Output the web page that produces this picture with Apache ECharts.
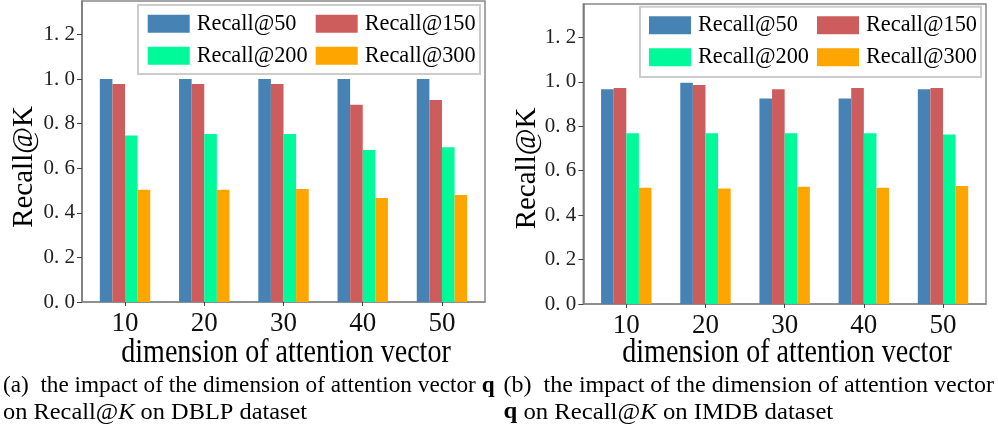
<!DOCTYPE html>
<html>
<head>
<meta charset="utf-8">
<script src="https://cdn.jsdelivr.net/npm/echarts@6/dist/echarts.min.js"></script>
<style>
html,body{margin:0;padding:0;background:#fff;}
#chart{width:998px;height:430px;}
</style>
</head>
<body>
<div id="chart"></div>
<script>
const categories = [10, 20, 30, 40, 50];
const yTicks = [0, 0.2, 0.4, 0.6, 0.8, 1.0, 1.2];
const seriesNames = ['Recall@50', 'Recall@150', 'Recall@200', 'Recall@300'];
// DBLP (a)
const dblpR50  = [1.000, 1.000, 1.000, 1.000, 1.000];
const dblpR150 = [0.978, 0.978, 0.978, 0.885, 0.906];
const dblpR200 = [0.747, 0.753, 0.753, 0.682, 0.694];
const dblpR300 = [0.504, 0.504, 0.507, 0.466, 0.480];
// IMDB (b)
const imdbR50  = [0.966, 0.996, 0.925, 0.925, 0.966];
const imdbR150 = [0.972, 0.985, 0.966, 0.972, 0.972];
const imdbR200 = [0.768, 0.768, 0.768, 0.768, 0.763];
const imdbR300 = [0.523, 0.520, 0.528, 0.523, 0.531];

const xTitle = 'dimension of attention vector';
const yTitle = 'Recall@K';

const colors = ['#4682B4', '#CD5C5C', '#00FA9A', '#FFA500'];
const FONT = 'Liberation Serif';

const chart = echarts.init(document.getElementById('chart'), null, {renderer: 'canvas'});

const panels = [
  {data: [dblpR50, dblpR150, dblpR200, dblpR300], left: 82, top: 1, width: 403, height: 301},
  {data: [imdbR50, imdbR150, imdbR200, imdbR300], left: 583.3, top: 4, width: 402.7, height: 300}
];

const grids = [], xAxes = [], yAxes = [], series = [];
panels.forEach((p, k) => {
  grids.push({left: p.left, top: p.top, width: p.width, height: p.height, show: true,
    borderColor: '#888', borderWidth: 1.5, containLabel: false});
  xAxes.push({
    type: 'value', gridIndex: k, min: 4.57, max: 55.43,
    axisLine: {show: true, onZero: false, lineStyle: {color: '#888', width: 1.5}},
    axisTick: {show: true, customValues: categories, length: 4, lineStyle: {color: '#444'}},
    axisLabel: {customValues: categories, formatter: v => String(v), fontFamily: FONT, fontSize: 27, color: '#111', margin: 8},
    splitLine: {show: false}
  });
  yAxes.push({
    type: 'value', gridIndex: k, min: 0, max: 1.35,
    axisLine: {show: true, lineStyle: {color: '#777', width: 1.5}},
    axisTick: {show: true, customValues: yTicks, length: 5, lineStyle: {color: '#444'}},
    axisLabel: {customValues: yTicks, formatter: v => v.toFixed(1).replace('.', '. '),
      fontFamily: FONT, fontSize: 21, color: '#222', margin: 7},
    splitLine: {show: false}
  });
  p.data.forEach((vals, i) => {
    series.push({
      type: 'bar', name: seriesNames[i], xAxisIndex: k, yAxisIndex: k,
      barWidth: 12.6, barGap: '0%',
      itemStyle: {color: colors[i]},
      data: categories.map((c, j) => [c, vals[j]])
    });
  });
});

const legendBase = {orient: 'vertical', padding: 0, itemWidth: 42, itemHeight: 18, itemGap: 10, icon: 'rect', z: 10,
  textStyle: {fontFamily: FONT, fontSize: 22.3, color: '#000', lineHeight: 18, padding: [0, 0, 0, 2]}};
const legends = [
  Object.assign({}, legendBase, {left: 147.7, top: 12.7, data: ['Recall@50', 'Recall@200']}),
  Object.assign({}, legendBase, {left: 315.7, top: 12.7, data: ['Recall@150', 'Recall@300']}),
  Object.assign({}, legendBase, {left: 649, top: 14.3, data: ['Recall@50', 'Recall@200']}),
  Object.assign({}, legendBase, {left: 817, top: 14.3, data: ['Recall@150', 'Recall@300']})
];

const CAPF = 23;
function cap(x, y, text, sx) {
  return {type: 'text', x: x, y: y, scaleX: sx, z: 10,
    style: {text: text, fontFamily: FONT, fontSize: CAPF, fill: '#000', align: 'left', verticalAlign: 'middle',
      rich: {
        b: {fontFamily: FONT, fontSize: CAPF, fontWeight: 'bold', fill: '#000'},
        i: {fontFamily: FONT, fontSize: CAPF, fontStyle: 'italic', fill: '#000'}
      }}};
}

const graphics = [
  {type: 'rect', shape: {x: 138, y: 5, width: 342, height: 69}, z: 5,
    style: {fill: '#fff', stroke: '#ccc', lineWidth: 2}},
  {type: 'rect', shape: {x: 640, y: 6.7, width: 341, height: 70.3}, z: 5,
    style: {fill: '#fff', stroke: '#ccc', lineWidth: 2}},
  {type: 'text', x: 24, y: 167, rotation: Math.PI / 2, z: 10,
    style: {text: yTitle, fontFamily: FONT, fontSize: 29, fill: '#000', align: 'center', verticalAlign: 'middle'}},
  {type: 'text', x: 527, y: 168.5, rotation: Math.PI / 2, z: 10,
    style: {text: yTitle, fontFamily: FONT, fontSize: 29, fill: '#000', align: 'center', verticalAlign: 'middle'}},
  {type: 'text', x: 286, y: 353, scaleX: 0.85, z: 10,
    style: {text: xTitle, fontFamily: FONT, fontSize: 33, fill: '#000', align: 'center', verticalAlign: 'middle'}},
  {type: 'text', x: 787, y: 353, scaleX: 0.85, z: 10,
    style: {text: xTitle, fontFamily: FONT, fontSize: 33, fill: '#000', align: 'center', verticalAlign: 'middle'}},
  cap(3, 386, '(a)  the impact of the dimension of attention vector {b|q}', 1.01),
  cap(3, 412.5, 'on Recall@{i|K} on DBLP dataset', 1.06),
  cap(503.5, 386, '(b)  the impact of the dimension of attention vector', 1.045),
  cap(503.5, 412.5, '{b|q} on Recall@{i|K} on IMDB dataset', 1.075)
];

chart.setOption({
  animation: false,
  backgroundColor: '#fff',
  grid: grids,
  xAxis: xAxes,
  yAxis: yAxes,
  legend: legends,
  graphic: graphics,
  series: series
});
</script>
</body>
</html>
